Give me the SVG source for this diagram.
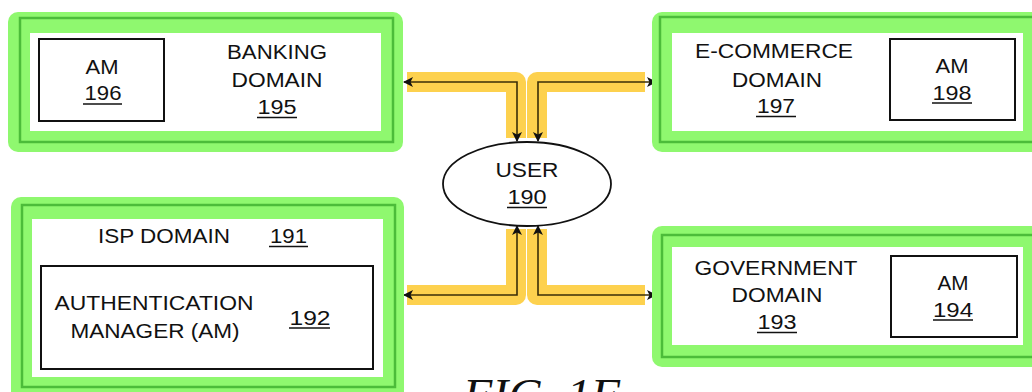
<svg xmlns="http://www.w3.org/2000/svg" width="1032" height="392" viewBox="0 0 1032 392">
<style>
.hl{fill:#8ff86f}
.dk{fill:none;stroke:#4cbc3a;stroke-width:2.5}
.wh{fill:#ffffff}
.box{fill:#ffffff;stroke:#111;stroke-width:2}
text{font-family:"Liberation Sans",Arial,sans-serif;font-size:20px;fill:#111}
.c{text-anchor:middle}
.ul{stroke:#111;stroke-width:1.6}
.yb{fill:none;stroke:#fdcf45;stroke-width:20;stroke-linejoin:round;opacity:0.95}
.ln{fill:none;stroke:#3a2e08;stroke-width:1.6;marker-start:url(#ah);marker-end:url(#ah)}
.fig{font-family:"Liberation Serif","Times New Roman",serif;font-style:italic;font-size:46px}
</style>
<defs>
<marker id="ah" viewBox="0 0 10 10" refX="9" refY="5" markerWidth="11" markerHeight="10" markerUnits="userSpaceOnUse" orient="auto-start-reverse">
<path d="M0,0 L10,5 L0,10 L2.5,5 Z" fill="#111"/>
</marker>
</defs>
<rect width="1032" height="392" fill="#ffffff"/>

<g id="connectors">
<path class="yb" d="M407,82 H516 V138"/>
<path class="yb" d="M645,82 H537 V138"/>
<path class="yb" d="M407,295 H516 V229"/>
<path class="yb" d="M645,295 H537 V229"/>
<path class="ln" d="M404,82 H517 V141"/>
<path class="ln" d="M656,82 H538 V141"/>
<path class="ln" d="M404,295 H517 V226"/>
<path class="ln" d="M656,295 H538 V226"/>
</g>

<g id="banking-domain">
<rect class="hl" x="8" y="12" width="395" height="140" rx="10"/>
<rect class="dk" x="20" y="18" width="373" height="124"/>
<rect class="wh" x="30" y="33" width="351" height="98"/>
<text class="c" x="277" y="59" textLength="100" lengthAdjust="spacingAndGlyphs">BANKING</text>
<text class="c" x="277" y="87" textLength="91" lengthAdjust="spacingAndGlyphs">DOMAIN</text>
<text class="c" x="277" y="114" textLength="39" lengthAdjust="spacingAndGlyphs">195</text>
<line class="ul" x1="257" y1="117.5" x2="297" y2="117.5"/>
</g>
<g id="am-196">
<rect class="box" x="39" y="39" width="125" height="82"/>
<text class="c" x="102" y="74" textLength="33" lengthAdjust="spacingAndGlyphs">AM</text>
<text class="c" x="103" y="100" textLength="37" lengthAdjust="spacingAndGlyphs">196</text>
<line class="ul" x1="83" y1="104" x2="122" y2="104"/>
</g>

<g id="ecommerce-domain">
<rect class="hl" x="652" y="12" width="400" height="140" rx="10"/>
<rect class="dk" x="660" y="17" width="380" height="125"/>
<rect class="wh" x="672" y="33" width="351" height="98"/>
<text class="c" x="774" y="58" textLength="158" lengthAdjust="spacingAndGlyphs">E-COMMERCE</text>
<text class="c" x="777" y="87" textLength="90" lengthAdjust="spacingAndGlyphs">DOMAIN</text>
<text class="c" x="776" y="113" textLength="38" lengthAdjust="spacingAndGlyphs">197</text>
<line class="ul" x1="756" y1="116.5" x2="796" y2="116.5"/>
</g>
<g id="am-198">
<rect class="box" x="890" y="39" width="125" height="81"/>
<text class="c" x="952" y="73" textLength="33" lengthAdjust="spacingAndGlyphs">AM</text>
<text class="c" x="952" y="100" textLength="39" lengthAdjust="spacingAndGlyphs">198</text>
<line class="ul" x1="932" y1="103" x2="972" y2="103"/>
</g>

<g id="isp-domain">
<rect class="hl" x="11" y="197" width="393" height="210" rx="10"/>
<rect class="dk" x="22" y="205" width="373" height="182"/>
<rect class="wh" x="32" y="219" width="351" height="158"/>
<text x="98" y="243" textLength="132" lengthAdjust="spacingAndGlyphs">ISP DOMAIN</text>
<text x="270" y="243" textLength="37" lengthAdjust="spacingAndGlyphs">191</text>
<line class="ul" x1="269" y1="246.5" x2="308" y2="246.5"/>
</g>
<g id="authentication-manager-192">
<rect class="box" x="41" y="266" width="332" height="103"/>
<text class="c" x="154" y="310" textLength="199" lengthAdjust="spacingAndGlyphs">AUTHENTICATION</text>
<text class="c" x="155" y="338" textLength="169" lengthAdjust="spacingAndGlyphs">MANAGER (AM)</text>
<text class="c" x="310" y="325" textLength="41" lengthAdjust="spacingAndGlyphs">192</text>
<line class="ul" x1="289" y1="328" x2="330" y2="328"/>
</g>

<g id="government-domain">
<rect class="hl" x="652" y="226" width="400" height="141" rx="10"/>
<rect class="dk" x="662" y="235" width="380" height="122"/>
<rect class="wh" x="672" y="247" width="351" height="98"/>
<text class="c" x="776" y="275" textLength="163" lengthAdjust="spacingAndGlyphs">GOVERNMENT</text>
<text class="c" x="777" y="302" textLength="91" lengthAdjust="spacingAndGlyphs">DOMAIN</text>
<text class="c" x="777" y="329" textLength="39" lengthAdjust="spacingAndGlyphs">193</text>
<line class="ul" x1="757" y1="332.5" x2="797" y2="332.5"/>
</g>
<g id="am-194">
<rect class="box" x="891" y="256" width="126" height="81"/>
<text class="c" x="953" y="290" textLength="31" lengthAdjust="spacingAndGlyphs">AM</text>
<text class="c" x="953" y="317" textLength="40" lengthAdjust="spacingAndGlyphs">194</text>
<line class="ul" x1="933" y1="320" x2="973" y2="320"/>
</g>

<g id="user-190">
<ellipse cx="527" cy="184" rx="84" ry="42" fill="#ffffff" stroke="#111" stroke-width="1.8"/>
<text class="c" x="527" y="177" textLength="63" lengthAdjust="spacingAndGlyphs">USER</text>
<text class="c" x="527" y="204" textLength="39" lengthAdjust="spacingAndGlyphs">190</text>
<line class="ul" x1="507" y1="207.5" x2="547" y2="207.5"/>
</g>

<text class="fig" x="463" y="411" textLength="157" lengthAdjust="spacingAndGlyphs">FIG. 1F</text>
</svg>
